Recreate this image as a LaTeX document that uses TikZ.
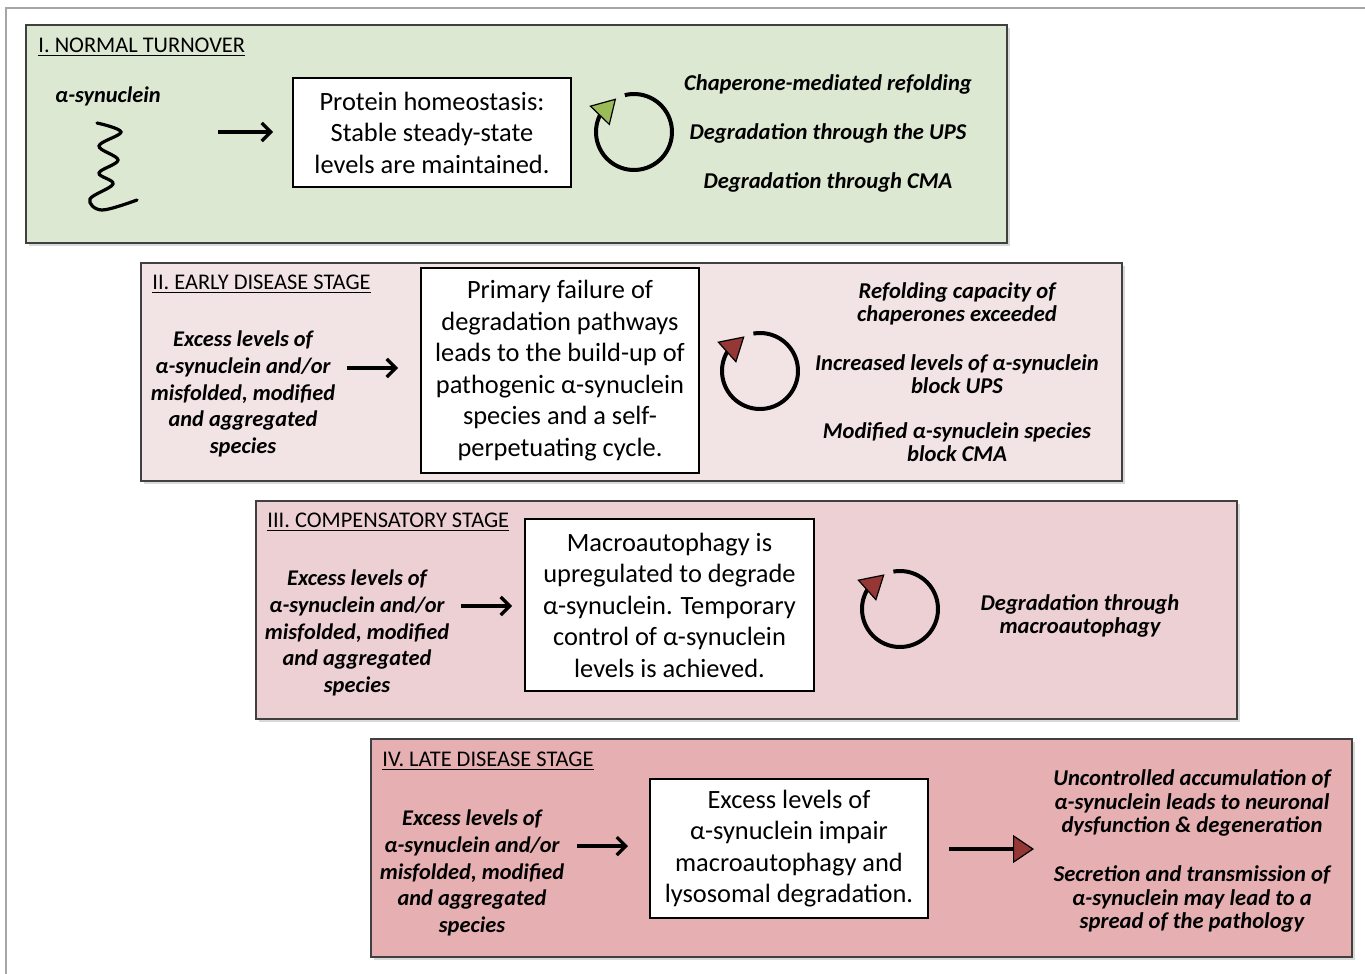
\documentclass[tikz,border=0pt]{standalone}
\usepackage{fontspec}
\setmainfont{Carlito}
\usetikzlibrary{arrows.meta,bending,positioning,shadows}
\definecolor{stageA}{HTML}{DDE8D2}
\definecolor{stageB}{HTML}{F2E3E5}
\definecolor{stageC}{HTML}{EDD0D4}
\definecolor{stageD}{HTML}{E6AFB2}
\definecolor{headgreen}{HTML}{9BBB59}
\definecolor{headred}{HTML}{953735}
\definecolor{framegrey}{HTML}{A6A6A6}
% cycle arrow: #1 centre, #2 colour of the head, #3 start angle
\newcommand{\cyclearrow}[3]{%
\draw[line width=2pt,-{Triangle[flex,length=12pt,width=14pt,line width=0.6pt,fill=#2]}]
([shift={(#3:38)}]#1) arc[start angle=#3, end angle=#3-346, radius=38];}

\begin{document}
\begin{tikzpicture}[x=0.5pt,y=0.5pt]
\tikzstyle{panel}=[draw=black!75,line width=0.7pt,minimum width=490.5pt,minimum height=109pt,
  drop shadow={shadow xshift=1.5pt,shadow yshift=-1.5pt,opacity=0.3}]
\tikzstyle{heading}=[anchor=west,inner sep=0pt,font=\fontsize{11.2}{13}\selectfont]
\tikzstyle{msgbox}=[draw=black,line width=0.7pt,fill=white,align=center,inner sep=0pt,
  font=\fontsize{13.2}{15.75}\selectfont]
\tikzstyle{cause}=[align=center,inner sep=0pt,font=\bfseries\itshape\fontsize{11.2}{13.4}\selectfont]
\tikzstyle{effect}=[align=center,inner sep=0pt,font=\bfseries\itshape\fontsize{11.3}{11.75}\selectfont]
\tikzstyle{arr}=[line width=1.6pt,-{Straight Barb[length=4.5pt,width=9pt]}]
\useasboundingbox (0,0) rectangle (1365,-974);

% frame
\draw[framegrey,line width=1pt] (6,-974) -- (6,-8) -- (1365,-8);

% the four stages
\foreach \name/\col in {1/stageA,2/stageB,3/stageC,4/stageD}
\node[panel,fill=\col] (P-\name) at (516.5+115*\name-115,-134-238*\name+238) {};

% Stage I
\node[heading] (h1) at (38,-47) {\underline{I. NORMAL TURNOVER}};
\node[cause] (syn) at (108,-96) {α-synuclein};
\draw[line width=1.6pt,line cap=round] plot[smooth,tension=0.6] coordinates
  {(97,-123) (121,-132) (99,-146) (118,-160) (99,-173) (113,-184) (90,-199) (102,-210) (137,-200)};
\node[msgbox,minimum width=139pt,minimum height=54.5pt] (box1) at (432,-132.5)
  {Protein homeostasis:\\Stable steady-state\\levels are maintained.};
\coordinate (a1) at (218,-132);
\coordinate (b1) at (273,-132);
\draw[arr] (a1) -- (b1);
\coordinate (c1) at (634,-132);
\cyclearrow{c1}{headgreen}{104}
\node[effect] (r11) at (828,-84) {Chaperone-mediated refolding};
\node[effect] (r12) at (828,-133) {Degradation through the UPS};
\node[effect] (r13) at (828,-182) {Degradation through CMA};

% Stage II
\node[heading] (h2) at (152,-284) {\underline{II. EARLY DISEASE STAGE}};
\node[cause] (l2) at (243,-394) {Excess levels of\\α-synuclein and/or\\misfolded, modified\\and aggregated\\species};
\node[msgbox,minimum width=139pt,minimum height=102.5pt] (box2) at (560,-370.5)
  {Primary failure of\\degradation pathways\\leads to the build-up of\\pathogenic α-synuclein\\species and a self-\\perpetuating cycle.};
\coordinate (a2) at (347,-368);
\coordinate (b2) at (398,-368);
\draw[arr] (a2) -- (b2);
\coordinate (c2) at (760,-371);
\cyclearrow{c2}{headred}{100}
\node[effect] (r21) at (957,-304) {Refolding capacity of\\chaperones exceeded};
\node[effect] (r22) at (957,-374) {Increased levels of α-synuclein\\block UPS};
\node[effect] (r23) at (957,-442) {Modified α-synuclein species\\block CMA};

% Stage III
\node[heading] (h3) at (267,-522) {\underline{III. COMPENSATORY STAGE}};
\node[cause] (l3) at (357,-633) {Excess levels of\\α-synuclein and/or\\misfolded, modified\\and aggregated\\species};
\node[msgbox,minimum width=144.5pt,minimum height=86pt] (box3) at (669.5,-605)
  {Macroautophagy is\\upregulated to degrade\\α-synuclein. Temporary\\control of α-synuclein\\levels is achieved.};
\coordinate (a3) at (461,-606);
\coordinate (b3) at (512,-606);
\draw[arr] (a3) -- (b3);
\coordinate (c3) at (900,-609);
\cyclearrow{c3}{headred}{100}
\node[effect] (r31) at (1080,-616) {Degradation through\\macroautophagy};

% Stage IV
\node[heading] (h4) at (382,-761) {\underline{IV. LATE DISEASE STAGE}};
\node[cause] (l4) at (472,-873) {Excess levels of\\α-synuclein and/or\\misfolded, modified\\and aggregated\\species};
\node[msgbox,minimum width=139pt,minimum height=69.5pt] (box4) at (789,-848.5)
  {Excess levels of\\α-synuclein impair\\macroautophagy and\\lysosomal degradation.};
\coordinate (a4) at (577,-846);
\coordinate (b4) at (628,-846);
\draw[arr] (a4) -- (b4);
\coordinate (a5) at (949,-849);
\coordinate (b5) at (1034,-849);
\draw[line width=2pt,-{Triangle[length=10.5pt,width=14pt,line width=0.6pt,fill=headred]}] (a5) -- (b5);
\node[effect] (r41) at (1192,-803) {Uncontrolled accumulation of\\α-synuclein leads to neuronal\\dysfunction \& degeneration};
\node[effect] (r42) at (1192,-899) {Secretion and transmission of\\α-synuclein may lead to a\\spread of the pathology};
\end{tikzpicture}
\end{document}
